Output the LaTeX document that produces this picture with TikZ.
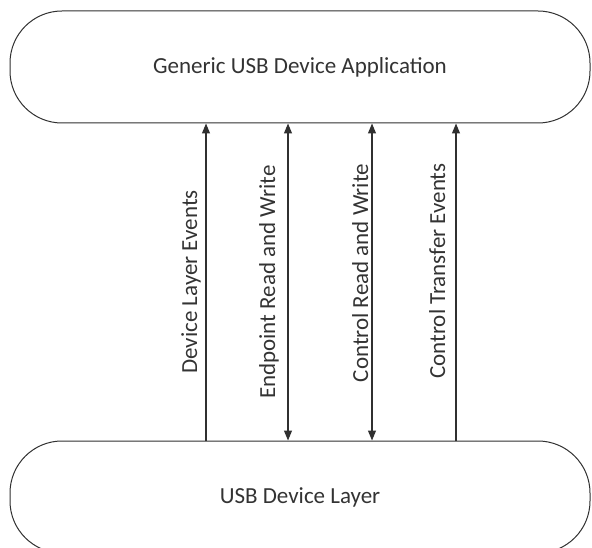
\documentclass[tikz,border=0pt]{standalone}
\usepackage{fontspec}
\setmainfont{Carlito}
\usetikzlibrary{arrows.meta}
\definecolor{ln}{HTML}{303030}
\definecolor{tx}{HTML}{333333}
\tikzset{
  layerbox/.style={draw=ln, line width=1pt, rectangle, rounded corners=52pt,
    minimum width=580pt, minimum height=112pt, text=tx, font=\fontsize{23}{26}\selectfont},
  conn/.style={draw=ln, line width=1.1pt},
  tip/.style={-{Triangle[length=10pt,width=8pt]}},
  dtip/.style={{Triangle[length=10pt,width=8pt]}-{Triangle[length=10pt,width=8pt]}},
  vlabel/.style={rotate=90, anchor=base, inner sep=0pt, text=tx, font=\fontsize{23}{26}\selectfont}
}
\begin{document}
\begin{tikzpicture}[x=1pt,y=-1pt]
\clip (0,0) rectangle (592,548);
\node[layerbox] (top) at (300,67) {Generic USB Device Application};
\node[layerbox] (bot) at (300,497) {USB Device Layer};
\coordinate (a1) at (206,0);
\coordinate (a2) at (288,0);
\coordinate (a3) at (372,0);
\coordinate (a4) at (456,0);
\draw[conn,tip] (a1 |- bot.north) -- (a1 |- top.south);
\draw[conn,dtip] (a2 |- bot.north) -- (a2 |- top.south);
\draw[conn,dtip] (a3 |- bot.north) -- (a3 |- top.south);
\draw[conn,tip] (a4 |- bot.north) -- (a4 |- top.south);
\node[vlabel] (l1) at (197,282) {Device Layer Events};
\node[vlabel] (l2) at (275,282) {Endpoint Read and Write};
\node[vlabel] (l3) at (368,273) {Control Read and Write};
\node[vlabel] (l4) at (445,271) {Control Transfer Events};
\end{tikzpicture}
\end{document}
